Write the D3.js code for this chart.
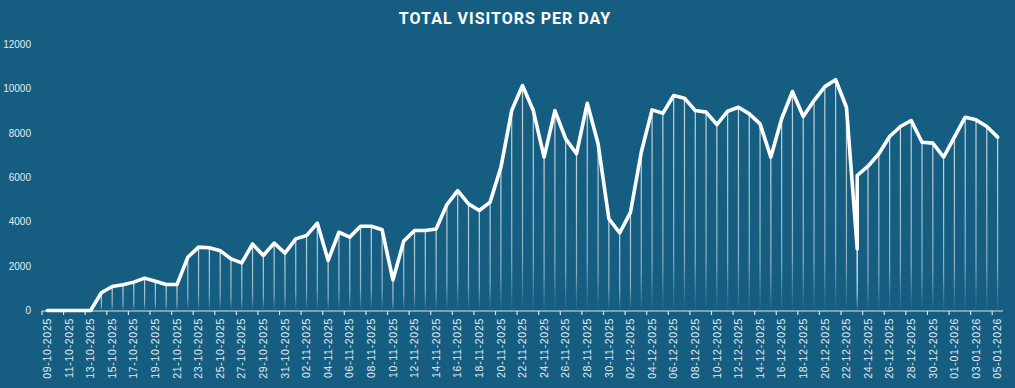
<!DOCTYPE html>
<html><head><meta charset="utf-8">
<script src="https://cdn.jsdelivr.net/npm/d3@7"></script>
<style>
html,body{margin:0;padding:0;background:#165e81;}
svg{display:block;}
</style></head>
<body>
<svg id="chart" width="1015" height="388"></svg>
<script>
const title = "TOTAL VISITORS PER DAY";
const dates = [
"09-10-2025","10-10-2025","11-10-2025","12-10-2025","13-10-2025","14-10-2025","15-10-2025","16-10-2025","17-10-2025","18-10-2025",
"19-10-2025","20-10-2025","21-10-2025","22-10-2025","23-10-2025","24-10-2025","25-10-2025","26-10-2025","27-10-2025","28-10-2025",
"29-10-2025","30-10-2025","31-10-2025","01-11-2025","02-11-2025","03-11-2025","04-11-2025","05-11-2025","06-11-2025","07-11-2025",
"08-11-2025","09-11-2025","10-11-2025","11-11-2025","12-11-2025","13-11-2025","14-11-2025","15-11-2025","16-11-2025","17-11-2025",
"18-11-2025","19-11-2025","20-11-2025","21-11-2025","22-11-2025","23-11-2025","24-11-2025","25-11-2025","26-11-2025","27-11-2025",
"28-11-2025","29-11-2025","30-11-2025","01-12-2025","02-12-2025","03-12-2025","04-12-2025","05-12-2025","06-12-2025","07-12-2025",
"08-12-2025","09-12-2025","10-12-2025","11-12-2025","12-12-2025","13-12-2025","14-12-2025","15-12-2025","16-12-2025","17-12-2025",
"18-12-2025","19-12-2025","20-12-2025","21-12-2025","22-12-2025","23-12-2025","23-12-2025","24-12-2025","25-12-2025","26-12-2025",
"27-12-2025","28-12-2025","29-12-2025","30-12-2025","31-12-2025","01-01-2026","02-01-2026","03-01-2026","04-01-2026","05-01-2026"];
const visitors = [
0,0,0,0,0,800,1080,1160,1280,1460,
1320,1170,1170,2400,2860,2830,2700,2330,2150,3000,
2480,3040,2590,3230,3380,3940,2260,3530,3310,3800,
3800,3640,1380,3130,3610,3610,3680,4780,5410,4810,
4510,4890,6460,9020,10150,9020,6920,9020,7740,7070,
9350,7520,4140,3500,4430,7140,9050,8900,9700,9580,
9020,8950,8390,8990,9170,8870,8420,6920,8650,9880,
8750,9470,10100,10410,9170,2780,6090,6510,7070,7850,
8300,8570,7590,7550,6920,7820,8720,8600,8300,7820];
const yTicks = [0,2000,4000,6000,8000,10000,12000];

const rows = dates.map((d,i)=>({date:d, value:visitors[i]}));
const categories = Array.from(new Set(dates));

const svg = d3.select("#chart");
const bg = "#165e81";
svg.append("rect").attr("width",1015).attr("height",388).attr("fill",bg);

const x = d3.scaleBand().domain(categories).range([42,1003]).paddingInner(0).paddingOuter(0);
const y = d3.scaleLinear().domain([0,12000]).range([310.5,44.5]);
const cx = d => x(d) + x.bandwidth()/2;

const defs = svg.append("defs");
const g = defs.append("linearGradient").attr("id","dropGrad").attr("x1",0).attr("y1",0).attr("x2",0).attr("y2",1);
g.append("stop").attr("offset","0%").attr("stop-color","#ffffff").attr("stop-opacity",0.75);
g.append("stop").attr("offset","75%").attr("stop-color","#ffffff").attr("stop-opacity",0.5);
g.append("stop").attr("offset","100%").attr("stop-color","#ffffff").attr("stop-opacity",0);

svg.append("text").attr("x",505).attr("y",24).attr("text-anchor","middle")
  .attr("fill","#ffffff").attr("font-family","Roboto, 'Open Sans', sans-serif")
  .attr("font-weight","bold").attr("font-size","16px").attr("letter-spacing","1px")
  .text(title);

svg.append("g").selectAll("text").data(yTicks).join("text")
  .attr("x",31).attr("y",d=>y(d)).attr("dy","0.35em").attr("text-anchor","end")
  .attr("fill","#e3ebf0").attr("font-family","'Liberation Sans', Arial, sans-serif").attr("font-size","10px")
  .text(d=>d);

svg.append("g").selectAll("rect").data(rows.filter(r=>r.value>0)).join("rect")
  .attr("x",d=>cx(d.date)-0.6).attr("width",1.2)
  .attr("y",d=>y(d.value)).attr("height",d=>y(0)-y(d.value))
  .attr("fill","url(#dropGrad)");

const ax = svg.append("g").attr("transform",`translate(0,${y(0)+0.5})`);
ax.append("line").attr("x1",42).attr("x2",1003).attr("y1",0).attr("y2",0)
  .attr("stroke","#d9e3ea").attr("stroke-width",1.2);
ax.selectAll("line.tick").data(categories.filter((d,i)=>i%2===0)).join("line")
  .attr("class","tick").attr("x1",d=>x(d)).attr("x2",d=>x(d)).attr("y1",0).attr("y2",4)
  .attr("stroke","#d9e3ea").attr("stroke-width",1.2);
ax.selectAll("text").data(categories.filter((d,i)=>i%2===0)).join("text")
  .attr("transform",d=>`translate(${cx(d)},7) rotate(-90)`)
  .attr("text-anchor","end").attr("dy","0.35em")
  .attr("fill","#e3ebf0").attr("font-family","'Liberation Sans', Arial, sans-serif")
  .attr("font-size","10.5px").attr("letter-spacing","0.7px")
  .text(d=>d);

const line = d3.line().x(d=>cx(d.date)).y(d=>y(d.value));
svg.append("path").datum(rows).attr("d",line)
  .attr("fill","none").attr("stroke","#ffffff").attr("stroke-width",3.6)
  .attr("stroke-linejoin","round").attr("stroke-linecap","round");
</script>
</body></html>
